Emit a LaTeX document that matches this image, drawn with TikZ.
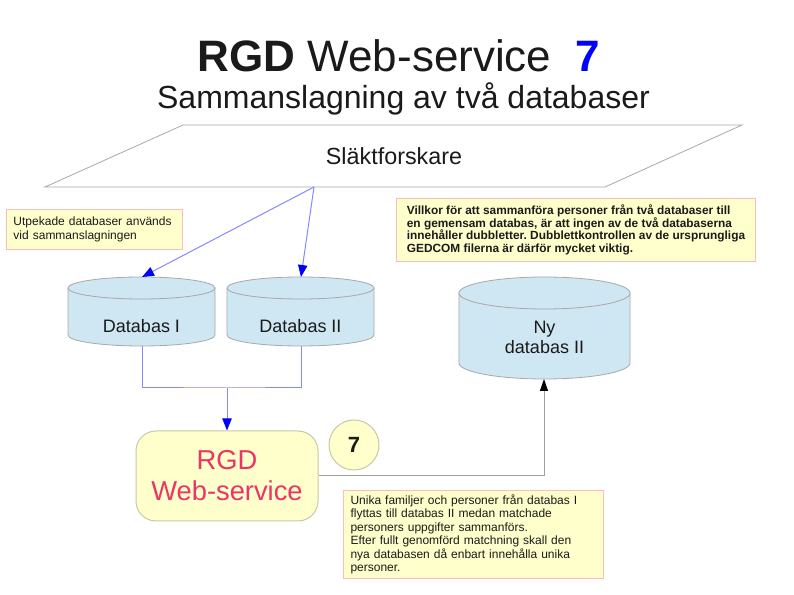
\documentclass[tikz,border=0pt]{standalone}
\usepackage{fontspec}
\setmainfont{Liberation Sans}
\usetikzlibrary{arrows.meta}
\definecolor{dbfill}{HTML}{CFE6F3}
\definecolor{dbline}{HTML}{A8A8A8}
\definecolor{noteyel}{HTML}{FFFFCC}
\definecolor{notepink}{HTML}{FFBBBB}
\definecolor{boxline}{HTML}{C8C8A8}
\definecolor{blueline}{HTML}{8888FF}
\definecolor{grayline}{HTML}{A0A0A0}
\definecolor{rgdred}{HTML}{EE3366}
\definecolor{txt}{HTML}{1A1A1A}
\frenchspacing
\tikzset{
  dbshape/.style={fill=dbfill, draw=dbline, line width=0.6pt},
  dbtext/.style={text=txt, font=\fontsize{13.5pt}{15pt}\selectfont, align=center, inner sep=0pt},
  notebox/.style={draw=notepink, fill=noteyel, line width=0.75pt, align=left, text=txt,
     anchor=north west, inner xsep=5.25pt, inner ysep=0pt},
  bline/.style={draw=blueline, line width=0.75pt},
  barrow/.style={bline, -{Triangle[length=9pt,width=7pt,color=blue]}},
  garrow/.style={draw=grayline, line width=0.75pt, -{Triangle[length=9pt,width=6pt,color=black]}},
}
\begin{document}
\begin{tikzpicture}[x=0.75pt,y=0.75pt]
\useasboundingbox[fill=white] (0,0) rectangle (794,-595);

% Title
\node[text=txt, font=\fontsize{33pt}{38pt}\selectfont, anchor=base] (title) at (399,-72)
  {\textbf{RGD} Web-service\ \ {\color{blue}\textbf{7}}};
\node[text=txt, font=\fontsize{24pt}{28pt}\selectfont, anchor=base] (subtitle) at (403.5,-109)
  {Sammanslagning av två databaser};

% Slaktforskare parallelogram
\draw[draw=dbline, line width=0.6pt] (183,-125) -- (742,-125) -- (605,-187) -- (45,-187) -- cycle;
\node[text=txt, font=\fontsize{17.5pt}{20pt}\selectfont, anchor=base] (slakt) at (394,-165) {Släktforskare};
\coordinate (src) at (314,-187);

% Database I
\filldraw[dbshape] (68,-288) -- (68,-335) arc[start angle=180,end angle=360,x radius=73.5,y radius=11] -- (215,-288) -- cycle;
\filldraw[dbshape] (141.5,-288) ellipse[x radius=73.5,y radius=11];
\node[dbtext, anchor=base] (db1) at (141.5,-333) {Databas I};
\coordinate (db1top) at (142,-277);
\coordinate (db1bot) at (142,-346);

% Database II
\filldraw[dbshape] (227,-288) -- (227,-335) arc[start angle=180,end angle=360,x radius=73.5,y radius=11] -- (374,-288) -- cycle;
\filldraw[dbshape] (300.5,-288) ellipse[x radius=73.5,y radius=11];
\node[dbtext, anchor=base] (db2) at (300.5,-333) {Databas II};
\coordinate (db2top) at (301,-277);
\coordinate (db2bot) at (301,-346);

% Ny databas II
\filldraw[dbshape] (459,-293) -- (459,-363) arc[start angle=180,end angle=360,x radius=85.5,y radius=16] -- (630,-293) -- cycle;
\filldraw[dbshape] (544.5,-293) ellipse[x radius=85.5,y radius=16];
\node[dbtext] (ny) at (544.5,-337) {Ny\\databas II};
\coordinate (nybot) at (544,-379);

% RGD box
\node[draw=boxline, fill=noteyel, line width=0.75pt, rounded corners=15pt,
      minimum width=136.5pt, minimum height=67.5pt, inner sep=0pt,
      text=rgdred, font=\fontsize{20.5pt}{23.25pt}\selectfont, align=center] (rgd) at (227,-476)
  {RGD\\Web-service};

% circle 7
\node[circle, draw=boxline, fill=noteyel, line width=0.75pt, minimum size=37.5pt, inner sep=0pt,
      text=txt, font=\fontsize{16.5pt}{18pt}\selectfont\bfseries] (c7) at (354,-445) {7};

% notes
\node[notebox, text width=121.5pt, minimum height=30pt, font=\fontsize{9pt}{10pt}\selectfont] (note1) at (6,-209)
  {Utpekade databaser används\\vid sammanslagningen};
\node[notebox, minimum width=269.25pt, minimum height=47.25pt, inner xsep=0pt,
      font=\fontsize{8.9pt}{9.5pt}\selectfont\bfseries] (note2) at (396,-198)
  {Villkor för att sammanföra personer från två databaser till\\
   en gemensam databas, är att ingen av de två databaserna\\
   innehåller dubbletter. Dubblettkontrollen av de ursprungliga\\
   GEDCOM filerna är därför mycket viktig.};
\node[notebox, text width=184.5pt, minimum height=66pt, font=\fontsize{9pt}{10.1pt}\selectfont] (note3) at (343,-490)
  {Unika familjer och personer från databas I\\
   flyttas till databas II medan matchade\\
   personers uppgifter sammanförs.\\
   Efter fullt genomförd matchning skall den\\
   nya databasen då enbart innehålla unika\\
   personer.};

% connectors
\draw[barrow] (src) -- (db1top);
\draw[barrow] (src) -- (db2top);
\coordinate (join) at (227,-388);
\draw[bline] (db1bot) |- (join) -| (db2bot);
\draw[barrow] (join) -- (rgd.north);
\draw[garrow] (rgd.east) -| (nybot);
\end{tikzpicture}
\end{document}
